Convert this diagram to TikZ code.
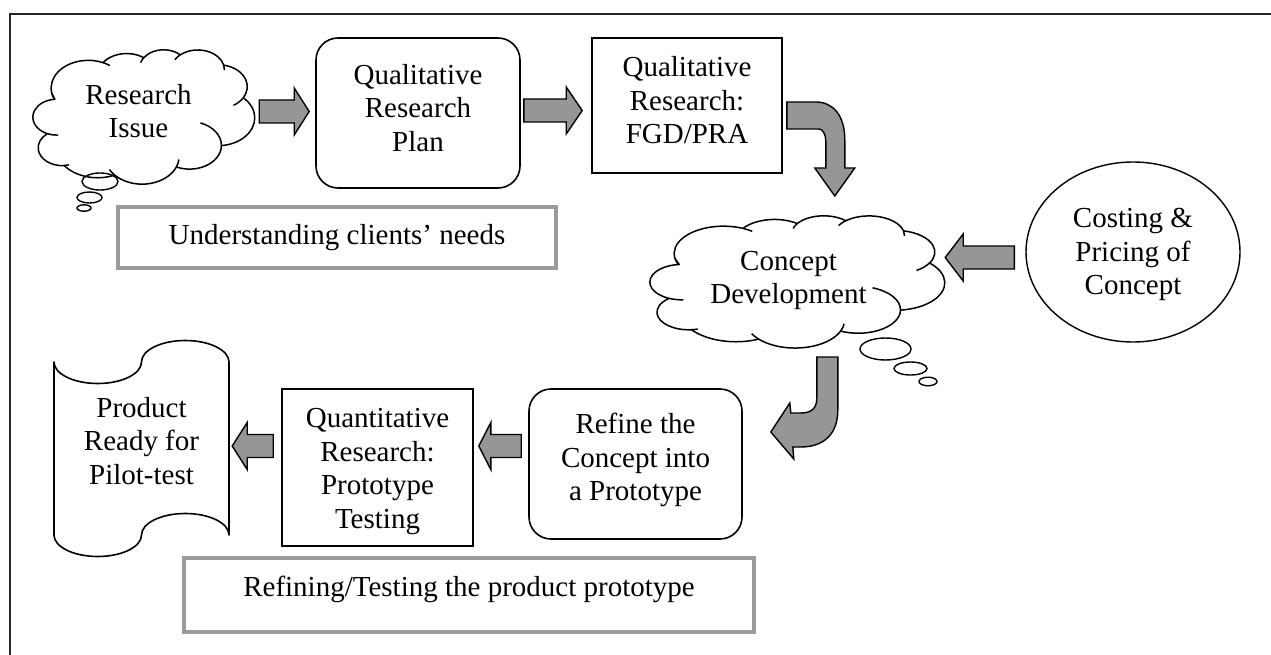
\documentclass[tikz,border=0pt]{standalone}
\usepackage{fontspec}
\setmainfont{Liberation Serif}
\usetikzlibrary{shapes.geometric,calc}
\definecolor{arrgray}{RGB}{150,150,150}
\definecolor{boxgray}{RGB}{155,155,155}
\tikzset{
  every node/.style={font=\fontsize{29}{33.5}\selectfont, align=center, inner sep=0pt},
  holder/.style={rectangle},
  sbox/.style={draw, line width=1.6pt, rectangle},
  rbox/.style={draw, line width=1.6pt, rectangle, rounded corners=22pt},
  ellbox/.style={draw, line width=1.4pt, ellipse},
  outline/.style={draw, line width=1.5pt, line join=round},
  graybox/.style={draw=boxgray, line width=3.5pt, rectangle},
  barrow/.style={draw, fill=arrgray, line width=1.4pt, line join=miter},
  bubble/.style={draw, line width=1.4pt},
  tx/.style={}
}
% horizontal block arrow: #1 head length, #2 start coordinate, #3 tip coordinate
\newcommand\harrow[3][15]{%
  \path[barrow] ($(#2)+(0,-11.5)$) -- ($(#3)!#1pt!(#2)+(0,-11.5)$) -- ($(#3)!#1pt!(#2)+(0,-23.5)$)
    -- (#3) -- ($(#3)!#1pt!(#2)+(0,23.5)$) -- ($(#3)!#1pt!(#2)+(0,11.5)$) -- ($(#2)+(0,11.5)$) -- cycle;}
% cloud outline in a 4320 x 4320 frame (y downwards); #1 prefix for junction names
\newcommand\officecloud[1]{%
  \path[outline] (390,1437) coordinate (#1p0)
   arc[start angle=-190.487, delta angle=123.781, x radius=675.3, y radius=919.0] coordinate (#1j1)
   arc[start angle=-144.102, delta angle=89.945, x radius=533.3, y radius=726.7] coordinate (#1j2)
   arc[start angle=-145.808, delta angle=99.723, x radius=436.5, y radius=594.5] coordinate (#1j3)
   arc[start angle=-130.986, delta angle=117.242, x radius=485.7, y radius=659.5] coordinate (#1j4)
   arc[start angle=-78.709, delta angle=109.027, x radius=533.3, y radius=727.3] coordinate (#1j5)
   arc[start angle=-46.267, delta angle=130.269, x radius=677.5, y radius=922.0] coordinate (#1j6)
   arc[start angle=0.625, delta angle=114.033, x radius=578.5, y radius=786.7] coordinate (#1j7)
   arc[start angle=22.452, delta angle=115.173, x radius=675.2, y radius=921.5] coordinate (#1j8)
   arc[start angle=66.243, delta angle=75.711, x radius=772.0, y radius=1054.3] coordinate (#1j9)
   arc[start angle=-274.942, delta angle=146.736, x radius=436.0, y radius=591.8] coordinate (#1j10)
   arc[start angle=-246.829, delta angle=152.519, x radius=434.5, y radius=594.5] -- cycle;
  \path[outline] (#1j10) arc[start angle=113.172, delta angle=-26.430, x radius=434.5, y radius=594.5];
  \path[outline] (#1j9) arc[start angle=85.058, delta angle=-11.447, x radius=436.0, y radius=591.8];
  \path[outline] (#1j8) arc[start angle=137.624, delta angle=14.081, x radius=675.2, y radius=921.5];
  \path[outline] (#1j7) arc[start angle=22.452, delta angle=-15.998, x radius=675.2, y radius=921.5];
  \path[outline] (#1j6) arc[start angle=0.625, delta angle=-70.917, x radius=578.5, y radius=786.7];
  \path[outline] (#1j5) arc[start angle=30.318, delta angle=27.752, x radius=533.3, y radius=727.3];
  \path[outline] (#1j4) arc[start angle=-13.744, delta angle=14.859, x radius=485.7, y radius=659.5];
  \path[outline] (#1j3) arc[start angle=-130.986, delta angle=-18.195, x radius=485.7, y radius=659.5];
  \path[outline] (#1j2) arc[start angle=-145.808, delta angle=-17.686, x radius=436.5, y radius=594.5];
  \path[outline] (#1j1) arc[start angle=-66.707, delta angle=12.319, x radius=675.3, y radius=919.0];
  \path[outline] (#1p0) arc[start angle=169.512, delta angle=-11.858, x radius=675.3, y radius=919.0];
}
\begin{document}
\begin{tikzpicture}[x=1pt,y=-1pt]
\useasboundingbox (0,0) rectangle (1271,655);
% frame
\draw[line width=2pt, black!85] (10,660) -- (10,14) -- (1280,14);

% shape nodes
\node[holder, minimum width=222pt, minimum height=128pt] (ri) at (144,114) {};
\node[rbox, minimum width=204pt, minimum height=150pt] (plan) at (418,113) {};
\node[sbox, minimum width=190pt, minimum height=135pt] (fgd) at (687,105.5) {};
\node[holder, minimum width=295pt, minimum height=126pt] (cd) at (797.5,279) {};
\node[ellbox, minimum width=214pt, minimum height=180pt] (cost) at (1133,252) {};
\node[rbox, minimum width=213pt, minimum height=150pt] (refine) at (635.5,464) {};
\node[sbox, minimum width=191pt, minimum height=157pt] (quant) at (377.5,467.5) {};
\node[holder, minimum width=175pt, minimum height=218pt] (prod) at (141.5,448) {};
\node[graybox, minimum width=438pt, minimum height=61pt] (g1) at (337,237.5) {Understanding clients’ needs};
\node[graybox, minimum width=570pt, minimum height=74pt, text depth=17pt] (g2) at (469,595) {Refining/Testing the product prototype};

% texts
\node[tx] (riT) at ($(ri.center)+(-5.5,-3)$) {Research\\Issue};
\node[tx] (planT) at ($(plan.center)+(0,-5)$) {Qualitative\\Research\\Plan};
\node[tx] (fgdT) at ($(fgd.center)+(0,-5)$) {Qualitative\\Research:\\FGD/PRA};
\node[tx] (cdT) at ($(cd.center)+(-9,1.5)$) {Concept\\Development};
\node[tx] (costT) at ($(cost.center)+(0,2.5)$) {Costing \&\\Pricing of\\Concept};
\node[tx] (refineT) at ($(refine.center)+(0,-4)$) {Refine the\\Concept into\\a Prototype};
\node[tx] (quantT) at ($(quant.center)+(0,4)$) {Quantitative\\Research:\\Prototype\\Testing};
\node[tx] (prodT) at ($(prod.center)+(0,-7)$) {Product\\Ready for\\Pilot-test};

% clouds
\begin{scope}[shift={($(ri.north west)+(-2.47,-0.07)$)}, x=0.054954pt, y=-0.030208pt]
  \officecloud{ri}
\end{scope}
\begin{scope}[shift={($(cd.north west)+(-3.29,-0.07)$)}, x=0.073032pt, y=-0.029745pt]
  \officecloud{cd}
\end{scope}

% punched tape outline
\begin{scope}[shift={(prod.center)}]
  \path[outline, line width=1.6pt] (-87.5,-86)
    arc[start angle=180, delta angle=-180, x radius=43.75, y radius=21.5]
    arc[start angle=180, delta angle=180, x radius=43.75, y radius=21.5]
    -- (87.5,87)
    arc[start angle=0, delta angle=-180, x radius=43.75, y radius=21.5]
    arc[start angle=0, delta angle=180, x radius=43.75, y radius=21.5]
    -- cycle;
\end{scope}

% thought bubbles
\begin{scope}[shift={(ri.center)}]
  \draw[bubble] (-44,67.5) ellipse [x radius=18pt, y radius=8.5pt];
  \draw[bubble] (-54.5,83.5) ellipse [x radius=12.5pt, y radius=5.5pt];
  \draw[bubble] (-60,94) ellipse [x radius=7pt, y radius=3.2pt];
\end{scope}
\begin{scope}[shift={(cd.center)}]
  \draw[bubble] (88,70) ellipse [x radius=25.5pt, y radius=11pt];
  \draw[bubble] (113,89.5) ellipse [x radius=16.5pt, y radius=6.5pt];
  \draw[bubble] (130.5,102.5) ellipse [x radius=9pt, y radius=4.3pt];
\end{scope}

% straight block arrows
\path (ri.east) ++(4,-2.5) coordinate (a1s);
\coordinate (a1e) at ($(a1s -| plan.west)+(-6,0)$);
\harrow[15]{a1s}{a1e}
\path (plan.east) ++(3,-2.5) coordinate (a2s);
\coordinate (a2e) at ($(a2s -| fgd.west)+(-9,0)$);
\harrow[16]{a2s}{a2e}
\path (cost.west) ++(-11,5.5) coordinate (a3s);
\coordinate (a3e) at (a3s -| cd.east);
\harrow[18]{a3s}{a3e}
\path (refine.west) ++(-7,-18) coordinate (a4s);
\coordinate (a4e) at ($(a4s -| quant.east)+(5,0)$);
\harrow[12]{a4s}{a4e}
\path (quant.west) ++(-8,-21.5) coordinate (a5s);
\coordinate (a5e) at ($(a5s -| prod.east)+(3,0)$);
\harrow[15]{a5s}{a5e}

% curved arrow FGD/PRA -> Concept Development
\begin{scope}[shift={(fgd.east)}]
  \path[barrow] (4,-3.5) -- (33,-3.5) .. controls (50,-3.5) and (62,9.5) .. (62,34.5)
    -- (62,62.5) -- (72,62.5) -- (52,90.5) -- (32,62.5) -- (43,62.5) -- (43,36.5)
    .. controls (43,28.5) and (40,23.5) .. (36,23.5) -- (4,23.5) -- cycle;
\end{scope}
% curved arrow Concept Development -> Refine
\begin{scope}[shift={(refine.east)}]
  \path[barrow] (74,-107) -- (95,-107) -- (95,-54) .. controls (95,-29) and (80,-17) .. (58,-17)
    -- (50,-17) -- (51,-5) -- (28,-32) -- (47,-61) -- (48,-51) -- (58,-51)
    .. controls (69,-51) and (74,-56) .. (74,-66) -- cycle;
\end{scope}
\end{tikzpicture}
\end{document}
